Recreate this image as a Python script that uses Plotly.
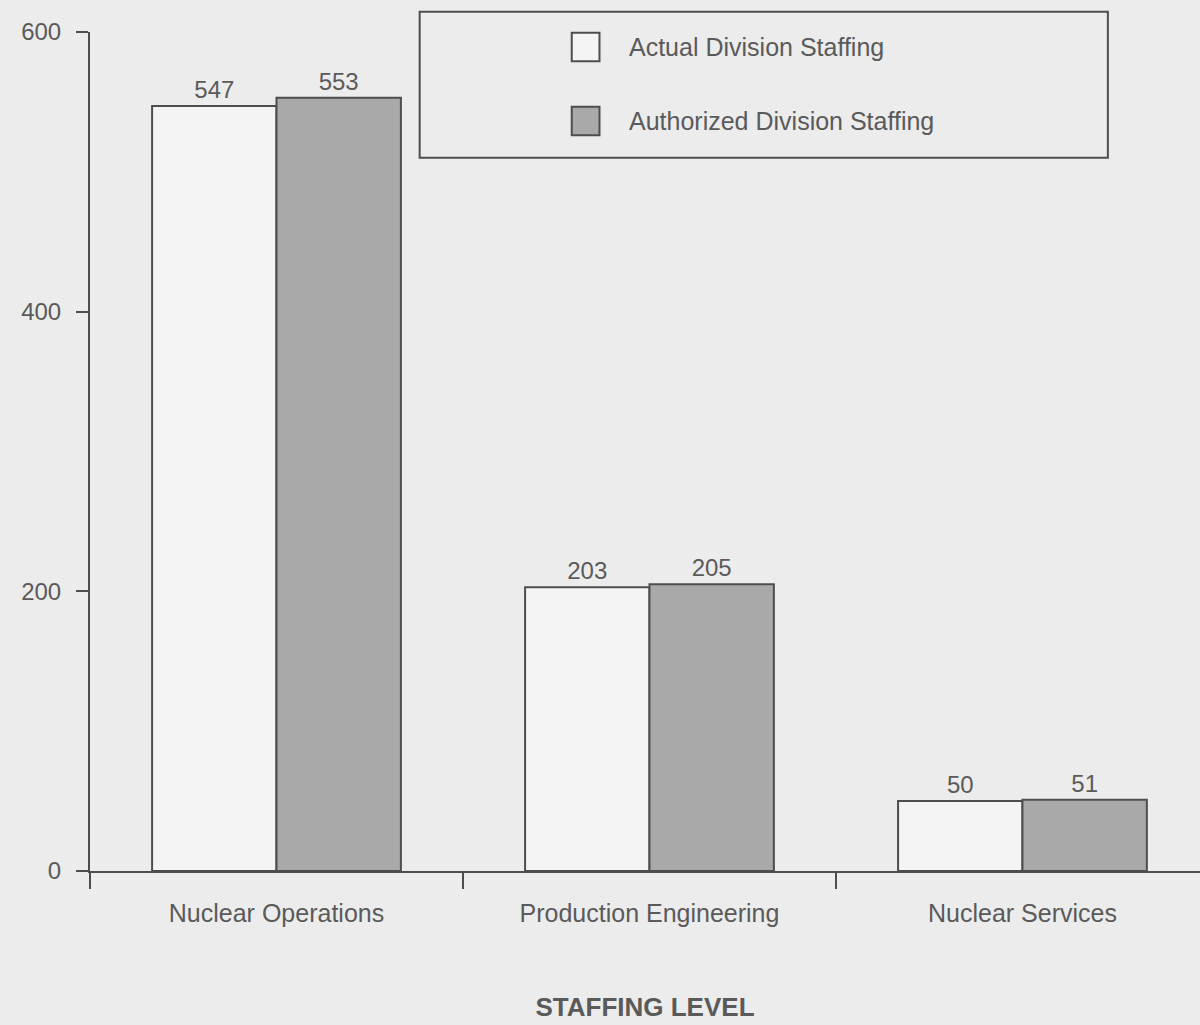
import plotly.graph_objects as go

categories = ["Nuclear Operations", "Production Engineering", "Nuclear Services"]
series_names = ["Actual Division Staffing", "Authorized Division Staffing"]
actual = [547, 203, 50]
authorized = [553, 205, 51]
y_ticks = [0, 200, 400, 600]
x_title = "STAFFING LEVEL"

BG = "#ececec"
INK = "#4d4d4d"
TXT = "#5a5a5a"
FILLS = ["#f4f4f4", "#a9a9a9"]
FONT = "Liberation Sans, Arial, sans-serif"

fig = go.Figure()
for name, vals, fill in zip(series_names, [actual, authorized], FILLS):
    fig.add_trace(go.Bar(
        x=categories, y=vals, name=name,
        marker=dict(color=fill, line=dict(color=INK, width=2)),
        text=[str(v) for v in vals], textposition="outside",
        textfont=dict(family=FONT, size=24, color=TXT),
        cliponaxis=False, showlegend=False,
    ))

# manual legend (box, swatches, labels)
fig.add_shape(type="rect", xref="paper", yref="paper",
              x0=0.297, x1=0.917, y0=0.85, y1=1.024,
              line=dict(color=INK, width=2), fillcolor="rgba(0,0,0,0)")
leg_y = [0.982, 0.894]
for name, fill, yy in zip(series_names, FILLS, leg_y):
    fig.add_shape(type="rect", xref="paper", yref="paper",
                  x0=0.434, x1=0.459, y0=yy - 0.017, y1=yy + 0.017,
                  line=dict(color=INK, width=2), fillcolor=fill)
    fig.add_annotation(text=name, xref="paper", yref="paper",
                       x=0.484, y=yy, xanchor="left", yanchor="middle",
                       showarrow=False,
                       font=dict(family=FONT, size=25, color=TXT))

fig.update_layout(
    width=1200, height=1025,
    paper_bgcolor=BG, plot_bgcolor=BG,
    margin=dict(l=90, r=0, t=32, b=154),
    barmode="group", bargap=0.333, bargroupgap=0,
    font=dict(family=FONT, color=TXT),
    xaxis=dict(
        range=[-0.5, 2.476], showline=True, linecolor=INK, linewidth=2,
        ticks="outside", tickson="boundaries", ticklen=16, tickwidth=1.5,
        tickcolor=INK, showgrid=False, zeroline=False,
        tickfont=dict(family=FONT, size=25, color=TXT),
        ticklabelstandoff=19,
        title=dict(text="<b>" + x_title + "</b>", standoff=72,
                   font=dict(family=FONT, size=26, color=TXT)),
    ),
    yaxis=dict(
        range=[0, 600], tickvals=y_ticks, showline=True, linecolor=INK,
        linewidth=2, ticks="outside", ticklen=12, tickwidth=1.5,
        tickcolor=INK, showgrid=False, zeroline=False,
        tickfont=dict(family=FONT, size=24, color=TXT),
        ticklabelstandoff=10,
    ),
)

fig.write_html(
    "out.html",
    config={"displayModeBar": False},
    post_script="document.body.style.margin='0';document.body.style.background='#ececec';",
)
